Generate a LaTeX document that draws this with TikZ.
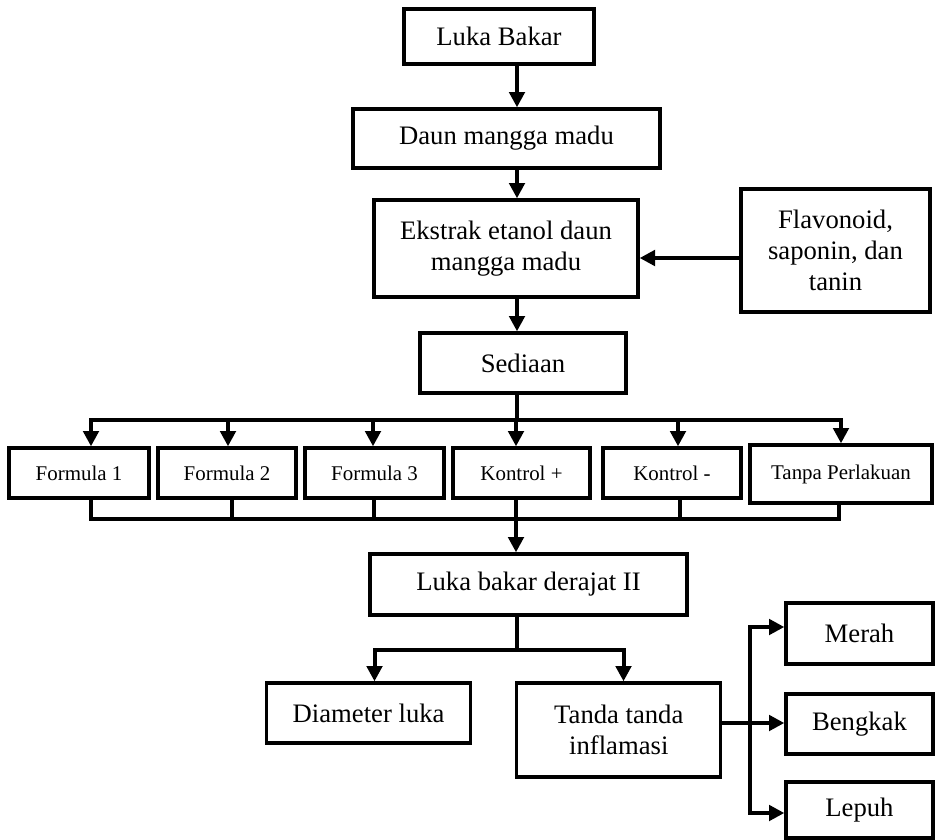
\documentclass[tikz,border=0pt]{standalone}
\usepackage{fontspec}
\setmainfont{Liberation Serif}
\usetikzlibrary{arrows.meta}

\begin{document}
\begin{tikzpicture}[x=0.75pt, y=-0.75pt, >={Triangle[length=11.5pt,width=11.5pt]},
    line width=3pt, line cap=rect,
    kotak/.style 2 args={draw, line width=2.5pt, inner sep=0pt, align=center,
      font=\fontsize{20}{23.5}\selectfont,
      minimum width=#1*0.75pt, minimum height=#2*0.75pt},
    kecil/.style={font=\fontsize{15.7}{18}\selectfont}]
  \useasboundingbox (0,0) rectangle (935,839);

  \node[kotak={190}{55}]  (luka)    at (499,36.5)  {Luka Bakar};
  \node[kotak={307}{59}]  (daun)    at (506.5,138.5) {Daun mangga madu};
  \node[kotak={264}{97}]  (ekstrak) at (506,248.5) {Ekstrak etanol daun\\mangga madu};
  \node[kotak={189}{123}] (flav)    at (835.5,250.5) {Flavonoid,\\saponin, dan\\tanin};
  \node[kotak={206}{60}]  (sediaan) at (523,363)   {Sediaan};

  % enam kelompok perlakuan
  \node[kotak={140}{50}, kecil]  (f1) at (79,473)    {Formula 1};
  \node[kotak={138}{50}, kecil]  (f2) at (227,473)   {Formula 2};
  \node[kotak={139}{50}, kecil]  (f3) at (374.5,473) {Formula 3};
  \node[kotak={137}{50}, kecil]  (f4) at (521.5,473) {Kontrol +};
  \node[kotak={138}{50}, kecil]  (f5) at (672,473)   {Kontrol -};
  \node[kotak={182}{58}, kecil]  (f6) at (841,474)   {Tanpa Perlakuan};

  \node[kotak={317}{61}]  (derajat) at (528.5,584.5) {Luka bakar derajat II};
  \node[kotak={204}{60}]  (diam)    at (368.6,713)   {Diameter luka};
  \node[kotak={204}{94}]  (tanda)   at (618.8,730)   {Tanda tanda\\inflamasi};
  \node[kotak={147}{61}]  (merah)   at (859.5,633.5) {Merah};
  \node[kotak={147}{60}]  (bengkak) at (859.5,724)   {Bengkak};
  \node[kotak={147}{56}]  (lepuh)   at (859.5,810)   {Lepuh};

  % alur utama
  \coordinate (sumbu) at (517,0);
  \draw[->] (luka.south -| sumbu) -- (daun.north -| sumbu);
  \draw[->] (daun.south -| sumbu) -- (ekstrak.north -| sumbu);
  \draw[->] (ekstrak.south -| sumbu) -- (sediaan.north -| sumbu);
  \coordinate (yflav) at (700,258);
  \draw[->] (flav.west |- yflav) -- (ekstrak.east |- yflav);

  % percabangan ke formula
  \foreach \i/\x in {1/91, 2/228, 3/373, 4/516, 5/678, 6/841}
    \coordinate (d\i) at (\x,420);
  \draw (sediaan.south -| sumbu) -- (sumbu |- d1);
  \draw (d1) -- (d6);
  \foreach \i in {1,...,6}
    \draw[->] (d\i) -- (d\i |- f\i.north);

  % penggabungan
  \foreach \i/\x in {1/91, 2/232, 3/374, 4/516, 5/680, 6/839}
    \coordinate (g\i) at (\x,519);
  \foreach \i in {1,...,6}
    \draw (g\i |- f\i.south) -- (g\i);
  \draw (g1) -- (g6);
  \draw[->] (g4) -- (g4 |- derajat.north);

  % parameter pengamatan
  \coordinate (cab) at (517,650);
  \coordinate (ka) at (374.5,650);
  \coordinate (kb) at (623.5,650);
  \draw (derajat.south -| cab) -- (cab);
  \draw (ka) -- (kb);
  \draw[->] (ka) -- (ka |- diam.north);
  \draw[->] (kb) -- (kb |- tanda.north);

  \coordinate (tg) at (750,723);
  \coordinate (m1) at (750,627);
  \coordinate (m3) at (750,813);
  \draw (tanda.east |- tg) -- (tg);
  \draw (m1) -- (m3);
  \draw[->] (m1) -- (m1 -| merah.west);
  \draw[->] (tg) -- (tg -| bengkak.west);
  \draw[->] (m3) -- (m3 -| lepuh.west);
\end{tikzpicture}
\end{document}
